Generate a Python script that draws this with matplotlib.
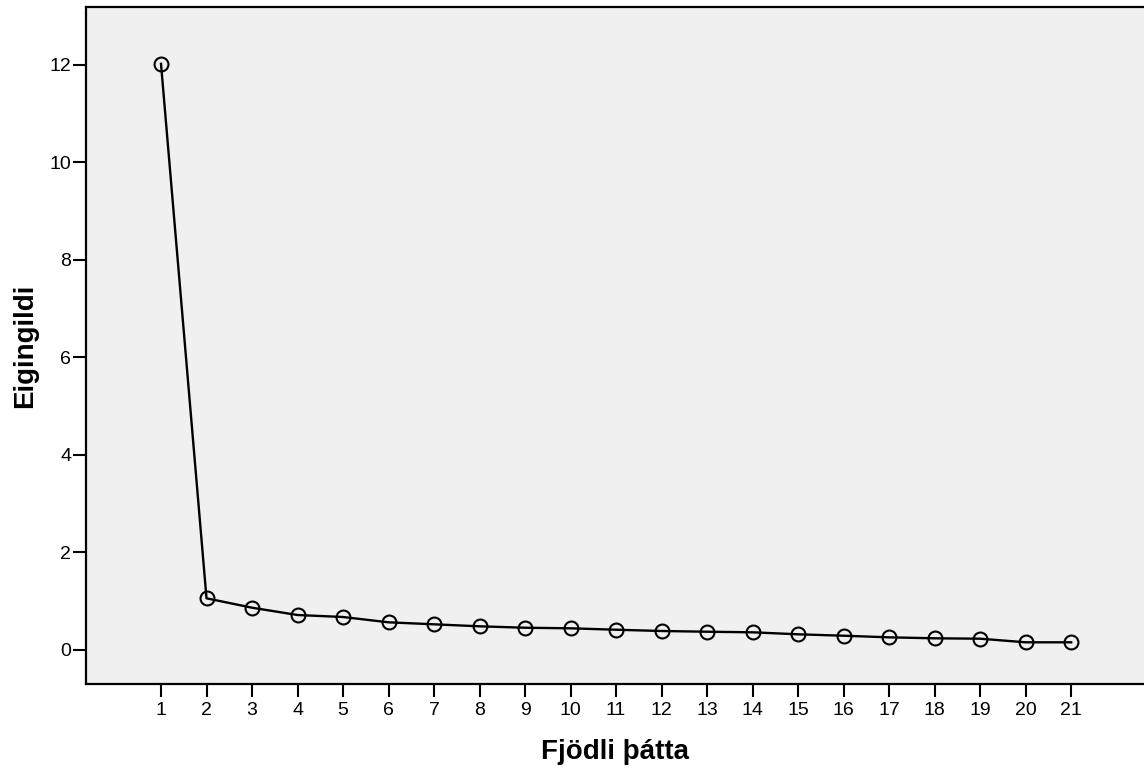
import numpy as np
import matplotlib.pyplot as plt
from matplotlib import rcParams

rcParams.update({
    "font.family": ['Liberation Sans', 'DejaVu Sans'],
    "font.size": 14,
})

# gögn úr skriðuriti (scree plot)
thaettir = list(range(1, 22))
eigingildi = [12.02, 1.055, 0.862, 0.712, 0.671, 0.562, 0.521, 0.480, 0.451, 0.439,
              0.410, 0.384, 0.369, 0.357, 0.316, 0.287, 0.254, 0.234, 0.226, 0.152, 0.152]
y_ticks = [0, 2, 4, 6, 8, 10, 12]

fig = plt.figure(figsize=(11.44, 7.76), dpi=100)
ax = fig.add_axes([0.0749, 0.1189, 0.9251, 0.8717])
ax.set_facecolor('#F0F0F0')

ax.plot(thaettir, eigingildi, c='black', linestyle='-', linewidth=1.7,
        marker='o', markersize=10, markerfacecolor='none',
        markeredgecolor='black', markeredgewidth=1.5)

ax.set_xlim(-0.655, 22.6)
ax.set_ylim(-0.698, 13.18)
ax.set_xticks(thaettir)
ax.set_yticks(y_ticks)

for s in ['left', 'bottom', 'top']:
    ax.spines[s].set_linewidth(1.6)
ax.spines['right'].set_visible(False)

ax.tick_params(axis='both', which='major', direction='out', length=9.4,
               width=1.5, labelsize=14, color='black')
ax.tick_params(axis='y', pad=1)
ax.tick_params(axis='x', pad=4)

ax.set_xlabel('Fjödli þátta', fontsize=20, fontweight='bold', va='center')
ax.xaxis.set_label_coords(0.5, -0.101)
ax.set_ylabel('Eigingildi', fontsize=20, fontweight='bold', va='center')
ax.yaxis.set_label_coords(-0.0574, 0.5)

plt.savefig('out.png', dpi=100)
